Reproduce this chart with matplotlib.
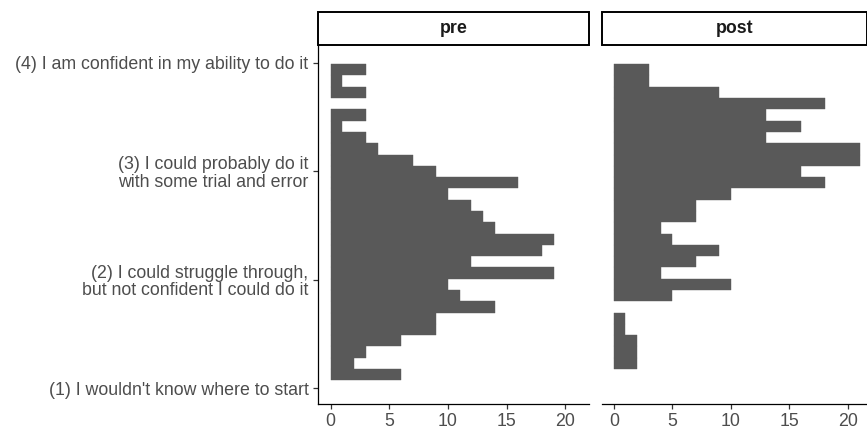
import matplotlib
matplotlib.use("Agg")
import matplotlib.pyplot as plt
import numpy as np
from matplotlib.patches import Rectangle

plt.rcParams['font.family'] = ['Liberation Sans', 'DejaVu Sans']

# Data: histogram counts per bin, bottom-to-top
bin_low = 1.074
bin_width = 0.104
pre_counts = [6, 2, 3, 6, 9, 9, 14, 11, 10, 19, 12, 18, 19, 14, 13, 12, 10, 16,
              9, 7, 4, 3, 1, 3, 0, 3, 1, 3]
post_counts = [0, 2, 2, 2, 1, 1, 0, 5, 10, 4, 7, 9, 5, 4, 7, 7, 10, 18, 16, 21,
               21, 13, 16, 13, 18, 9, 3, 3]
facets = ["pre", "post"]
y_ticks = [1, 2, 3, 4]
y_labels = ["(1) I wouldn't know where to start",
            "(2) I could struggle through,\nbut not confident I could do it",
            "(3) I could probably do it\nwith some trial and error",
            "(4) I am confident in my ability to do it"]
x_ticks = [0, 5, 10, 15, 20]

W, H = 867, 430
fig = plt.figure(figsize=(W / 100, H / 100), dpi=100)

bar_color = "#595959"
text_color = "#4D4D4D"
fs = 12.8

panels = [
    dict(left=318.3, right=589.3, xlim=(-1.05, 22.05), counts=pre_counts, title=facets[0], yaxis=True),
    dict(left=601.7, right=866.7, xlim=(-1.03, 21.6), counts=post_counts, title=facets[1], yaxis=False),
]
p_top, p_bot = 45.0, 404.3
s_top = 12.3

for p in panels:
    ax = fig.add_axes([p['left'] / W, 1 - p_bot / H, (p['right'] - p['left']) / W, (p_bot - p_top) / H])
    counts = np.array(p['counts'])
    centers = bin_low + bin_width * (np.arange(len(counts)) + 0.5)
    mask = counts > 0
    ax.barh(centers[mask], counts[mask], height=bin_width, left=0, color=bar_color,
            edgecolor=bar_color, linewidth=0.3)
    ax.set_xlim(*p['xlim'])
    ax.set_ylim(0.8526, 4.163)
    for s in ['top', 'right']:
        ax.spines[s].set_visible(False)
    ax.spines['bottom'].set_linewidth(0.9)
    ax.spines['left'].set_linewidth(0.9)
    ax.set_xticks(x_ticks)
    ax.set_xticklabels([str(t) for t in x_ticks], fontsize=fs, color=text_color)
    ax.tick_params(axis='x', length=3.6, width=0.9, pad=2.5, color='#333333')
    if p['yaxis']:
        ax.set_yticks(y_ticks)
        ax.set_yticklabels(y_labels, fontsize=fs, color=text_color, linespacing=1.05)
        ax.tick_params(axis='y', length=3.6, width=0.9, pad=3.5, color='#333333')
    else:
        ax.spines['left'].set_visible(False)
        ax.set_yticks([])
    # strip
    sax = fig.add_axes([p['left'] / W, 1 - p_top / H, (p['right'] - p['left']) / W, (p_top - s_top) / H])
    sax.set_xlim(0, 1)
    sax.set_ylim(0, 1)
    sax.axis('off')
    sax.add_patch(Rectangle((0, 0), 1, 1, transform=sax.transAxes, facecolor='white',
                            edgecolor='black', linewidth=1.4, clip_on=False))
    sax.text(0.5, 0.5, p['title'], ha='center', va='center', fontsize=fs,
             fontweight='bold', color='#1A1A1A')

fig.savefig("out.png", dpi=100)
